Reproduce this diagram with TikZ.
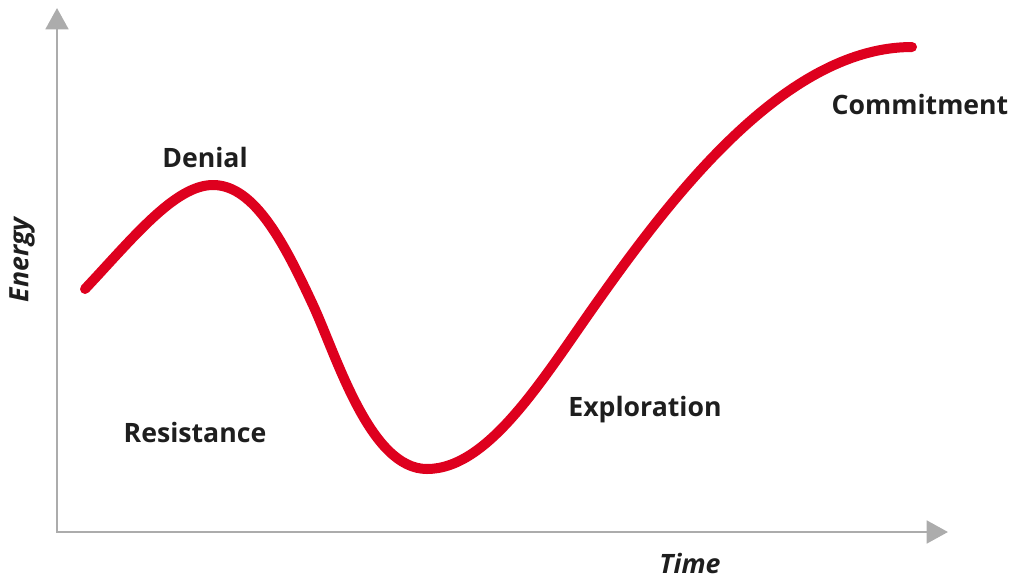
\documentclass[tikz,border=0pt]{standalone}
\usepackage{fontspec}
\setmainfont{Open Sans}
\usetikzlibrary{arrows.meta}
\definecolor{axisgray}{RGB}{172,172,172}
\definecolor{curvered}{RGB}{222,0,30}
\definecolor{txt}{RGB}{30,30,30}
\begin{document}
\begin{tikzpicture}[x=0.75pt,y=-0.75pt,
  lbl/.style={text=txt,font=\fontsize{20}{24}\selectfont\bfseries,inner sep=0pt},
  axlbl/.style={lbl,font=\fontsize{20}{24}\selectfont\bfseries\itshape},
  axisline/.style={draw=axisgray,line width=2.2pt,{Triangle[length=16pt,width=17pt]}-{Triangle[length=16pt,width=17pt]}},
  curve/.style={draw=curvered,line width=7.5pt,line cap=round,line join=round}]
\useasboundingbox (0,0) rectangle (1024,579);
\coordinate (ytip) at (57,8);
\coordinate (origin) at (57,532);
\coordinate (xtip) at (948,532);
\draw[axisline] (ytip) -- (origin) -- (xtip);
\coordinate (c0) at (85,289);
\coordinate (peak) at (213,185);
\coordinate (desc) at (313,305);
\coordinate (trough) at (427,469);
\coordinate (infl) at (600,298);
\coordinate (cend) at (912,47);
\draw[curve] (c0) .. controls (133,238) and (175,185) .. (peak)
  .. controls (255,185) and (285,245) .. (desc)
  .. controls (337,357) and (370,469) .. (trough)
  .. controls (490,469) and (545,375) .. (infl)
  .. controls (680,185) and (790,47) .. (cend);
\node[lbl] (denial) at (205,157) {Denial};
\node[lbl] (resistance) at (195,432) {Resistance};
\node[lbl] (exploration) at (645,410) {Exploration};
\node[lbl] (commitment) at (920,104) {Commitment};
\node[axlbl,rotate=90] (energy) at (22,260) {Energy};
\node[axlbl] (time) at (690,563) {Time};
\end{tikzpicture}
\end{document}
